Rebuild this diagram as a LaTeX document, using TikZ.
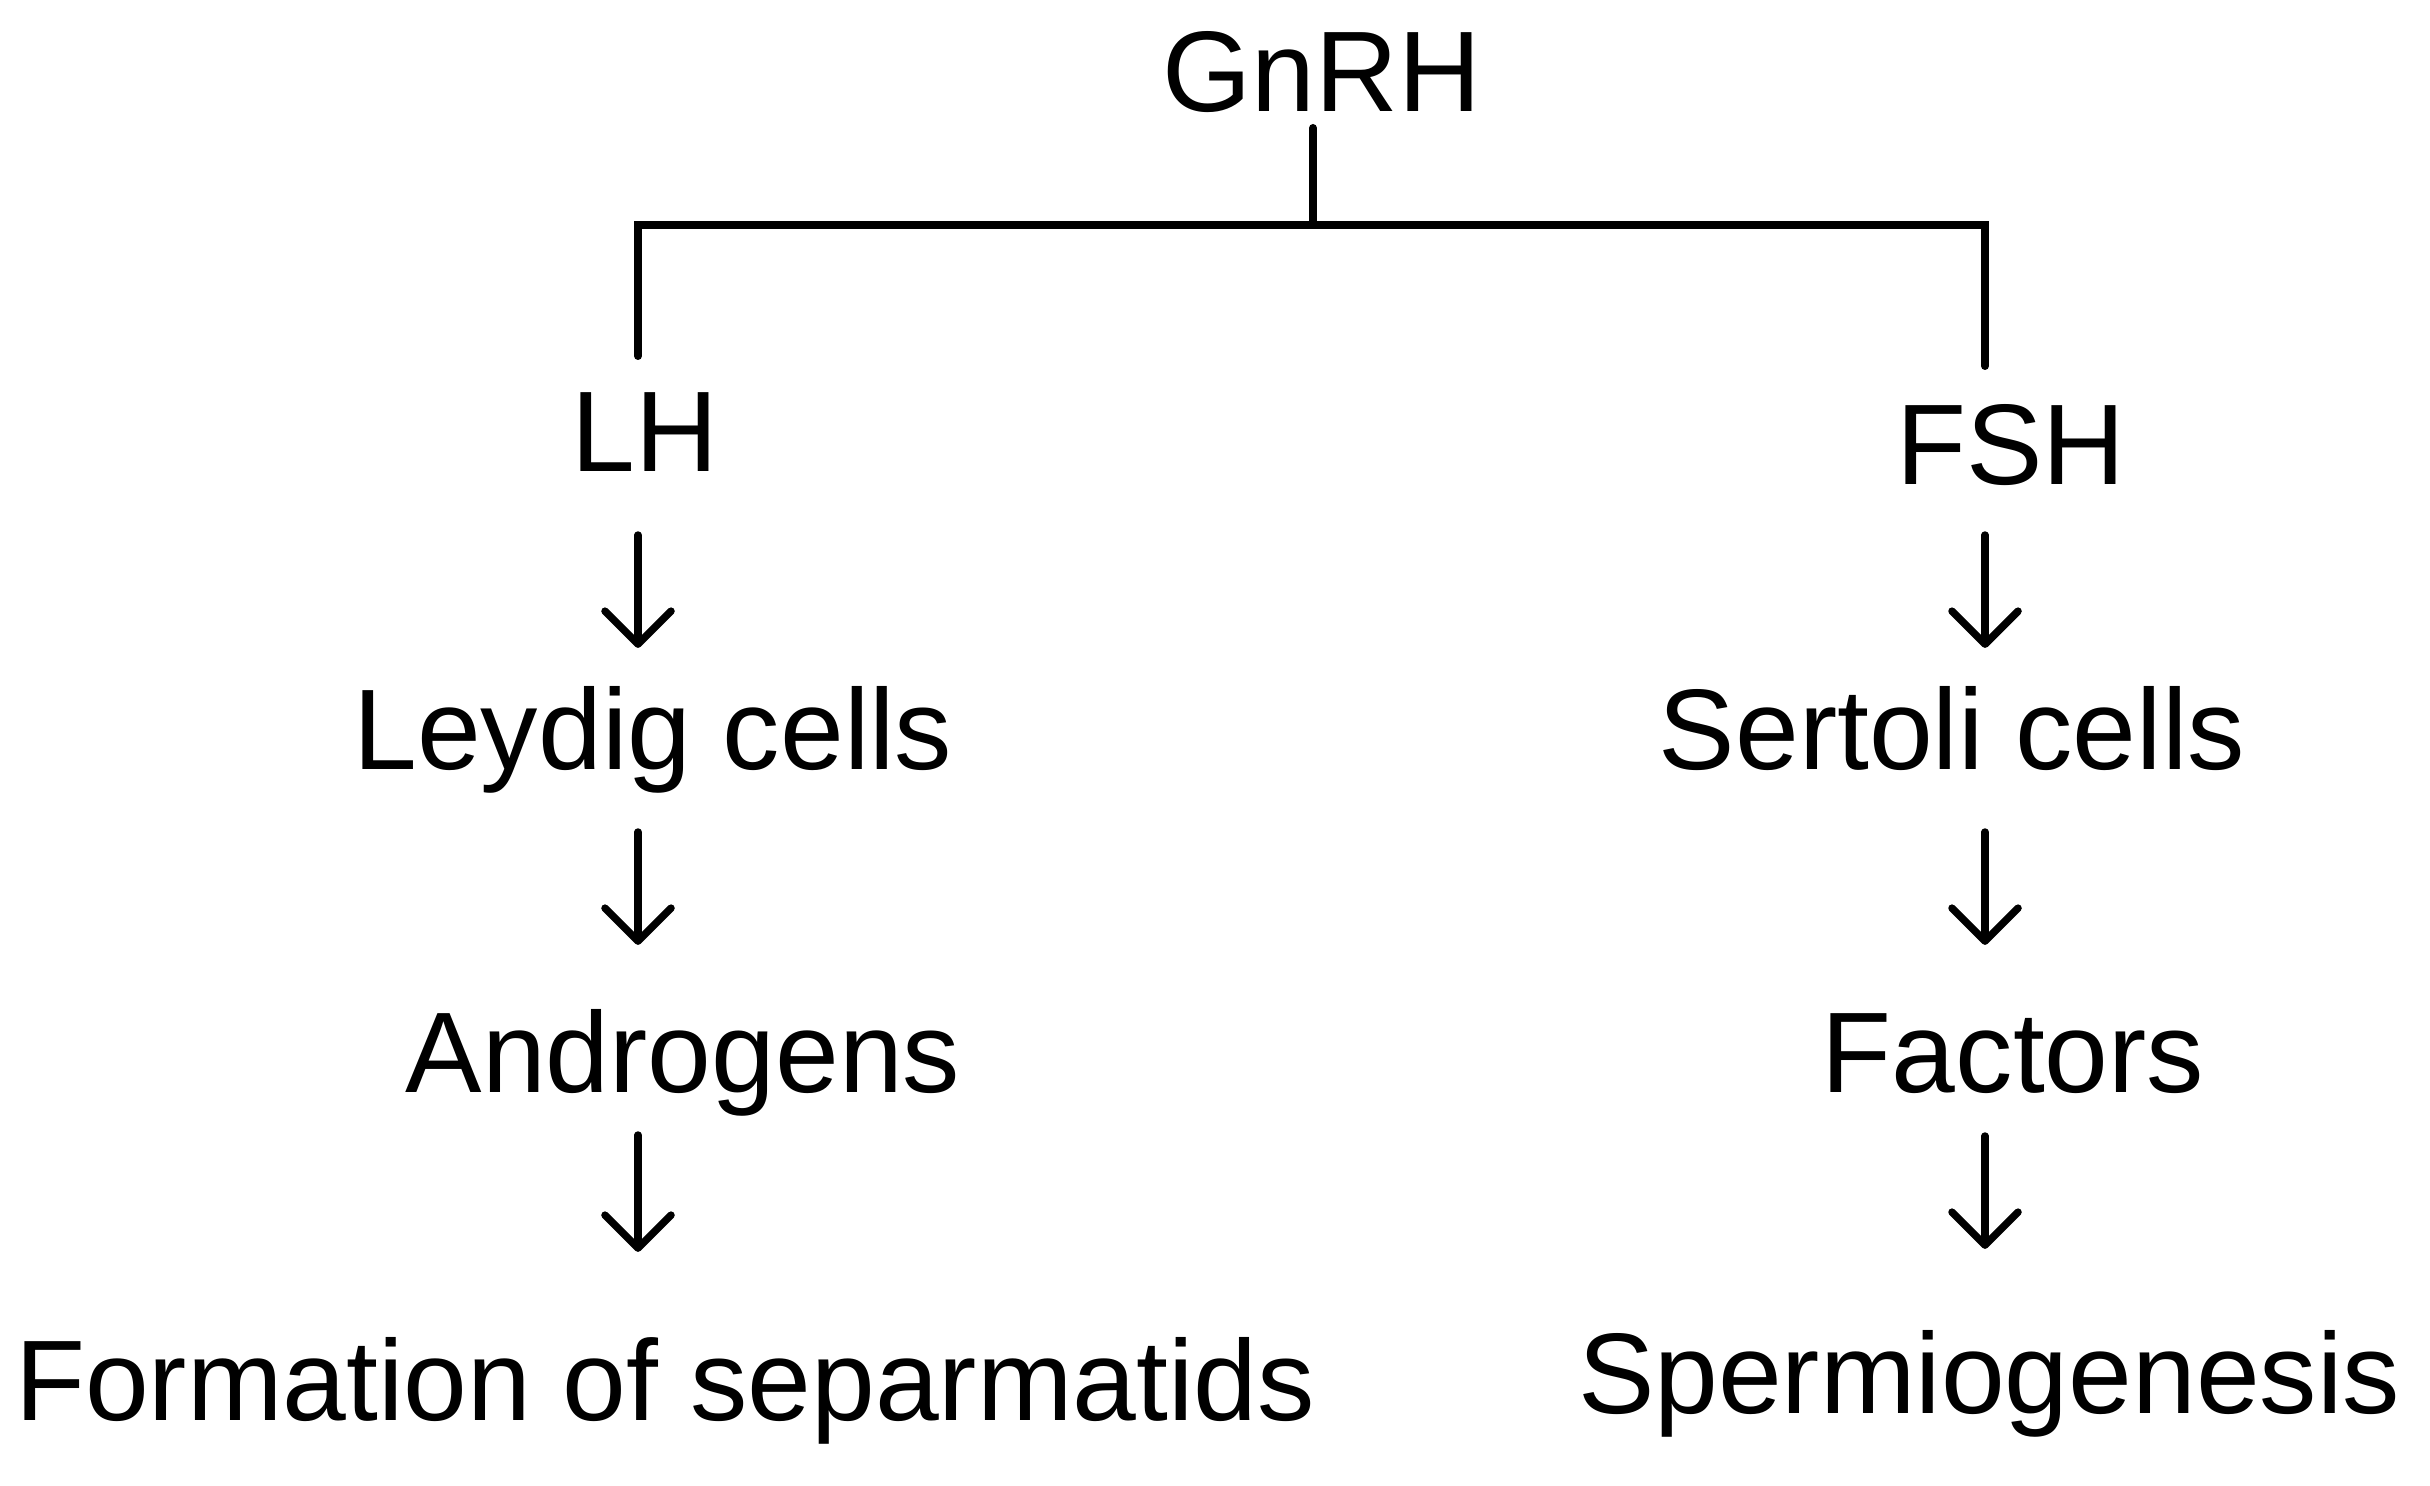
\documentclass[tikz,border=0pt]{standalone}
\usepackage{fontspec}
\setmainfont{Liberation Sans}
\usetikzlibrary{arrows.meta}
\begin{document}
\begin{tikzpicture}[x=0.01cm,y=-0.01cm,
    txt/.style={inner sep=0pt,anchor=base,font=\fontsize{32.6}{39}\selectfont},
    tree/.style={line width=0.08cm,line cap=round},
    flow/.style={line width=0.075cm,line cap=round,
      -{Straight Barb[length=0.33cm,width=0.66cm,line cap=round,line join=round]}}]
   \useasboundingbox (0,0) rectangle (2430,1486);
   \coordinate (lcol) at (638,0);
   \coordinate (rcol) at (1985,0);
   \coordinate (hub) at (1313,225);
   \coordinate (ldrop) at (638,356);
   \coordinate (rdrop) at (1985,366);
   \node[txt] (gnrh) at (1322,112) {GnRH};
   \node[txt] (lh) at (645,472) {LH};
   \node[txt] (fsh) at (2011,485) {FSH};
   \node[txt] (leydig) at (653,770) {Leydig cells};
   \node[txt] (sertoli) at (1952,770) {Sertoli cells};
   \node[txt] (andro) at (683,1093) {Androgens};
   \node[txt] (factors) at (2013,1093) {Factors};
   \node[txt] (formation) at (665,1420) {Formation of separmatids};
   \node[txt] (spermio) at (1989,1413) {Spermiogenesis};
   \draw[tree] (gnrh.base -| hub) ++(0,16) -- (hub);
   \draw[tree] (ldrop) |- (hub) -| (rdrop);
   \draw[flow,shorten <=0.63cm,shorten >=1.22cm] (lh.base -| lcol) -- (leydig.base -| lcol);
   \draw[flow,shorten <=0.62cm,shorten >=1.48cm] (leydig.base -| lcol) -- (andro.base -| lcol);
   \draw[flow,shorten <=0.42cm,shorten >=1.68cm] (andro.base -| lcol) -- (formation.base -| lcol);
   \draw[flow,shorten <=0.50cm,shorten >=1.22cm] (fsh.base -| rcol) -- (sertoli.base -| rcol);
   \draw[flow,shorten <=0.62cm,shorten >=1.48cm] (sertoli.base -| rcol) -- (factors.base -| rcol);
   \draw[flow,shorten <=0.43cm,shorten >=1.64cm] (factors.base -| rcol) -- (spermio.base -| rcol);
\end{tikzpicture}
\end{document}
